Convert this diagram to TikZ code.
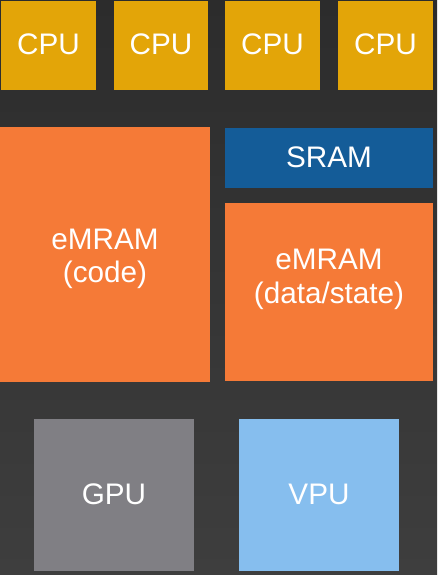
\documentclass[tikz,border=0pt]{standalone}
\usepackage{fontspec}
\setmainfont{Liberation Sans}
\usetikzlibrary{calc}
\definecolor{bgtop}{HTML}{2C2C2C}
\definecolor{bgbot}{HTML}{3E3E3E}
\definecolor{cpucol}{HTML}{E3A508}
\definecolor{mramcol}{HTML}{F57A37}
\definecolor{sramcol}{HTML}{145C98}
\definecolor{gpucol}{HTML}{807F84}
\definecolor{vpucol}{HTML}{86BEEE}
\tikzset{
  blk/.style={draw=none, inner sep=0pt, outer sep=0pt, anchor=north west},
  lbl/.style={text=white, font=\fontsize{29.7}{33.4}\selectfont, align=center, inner sep=0pt},
}
\begin{document}
\begin{tikzpicture}[x=1pt,y=-1pt]
\shade[top color=bgtop, bottom color=bgbot] (0,0) rectangle (437,575);
\useasboundingbox (0,0) rectangle (437,575);
% CPUs
\node[blk, fill=cpucol, minimum width=95pt, minimum height=89pt] (cpu1) at (1,1) {};
\node[blk, fill=cpucol, minimum width=94pt, minimum height=89pt] (cpu2) at (114,1) {};
\node[blk, fill=cpucol, minimum width=95pt, minimum height=89pt] (cpu3) at (225,1) {};
\node[blk, fill=cpucol, minimum width=95pt, minimum height=89pt] (cpu4) at (338,1) {};
\node[lbl, anchor=base] (t1) at ($(cpu1.north)+(0,54)$) {CPU};
\node[lbl, anchor=base] (t2) at ($(cpu2.north)+(0,54)$) {CPU};
\node[lbl, anchor=base] (t3) at ($(cpu3.north)+(0,54)$) {CPU};
\node[lbl, anchor=base] (t4) at ($(cpu4.north)+(0,54)$) {CPU};
% memories
\node[blk, fill=mramcol, minimum width=210pt, minimum height=255pt] (code) at (0,127) {};
\node[blk, fill=sramcol, minimum width=208pt, minimum height=60pt] (sram) at (225,128) {};
\node[blk, fill=mramcol, minimum width=208pt, minimum height=178pt] (data) at (225,203) {};
\node[lbl, anchor=base] (tsram) at ($(sram.north)+(0,39.3)$) {SRAM};
\node[lbl, anchor=base] (tcode) at (105,282.7) {eMRAM\\(code)};
\node[lbl, anchor=base] (tdata) at (329,303) {eMRAM\\(data/state)};
% accelerators
\node[blk, fill=gpucol, minimum width=160pt, minimum height=152pt] (gpu) at (34,419) {};
\node[blk, fill=vpucol, minimum width=160pt, minimum height=152pt] (vpu) at (239,419) {};
\node[lbl, anchor=base] (tgpu) at ($(gpu.north)+(0,85.3)$) {GPU};
\node[lbl, anchor=base] (tvpu) at ($(vpu.north)+(0,85.3)$) {VPU};
\end{tikzpicture}
\end{document}
